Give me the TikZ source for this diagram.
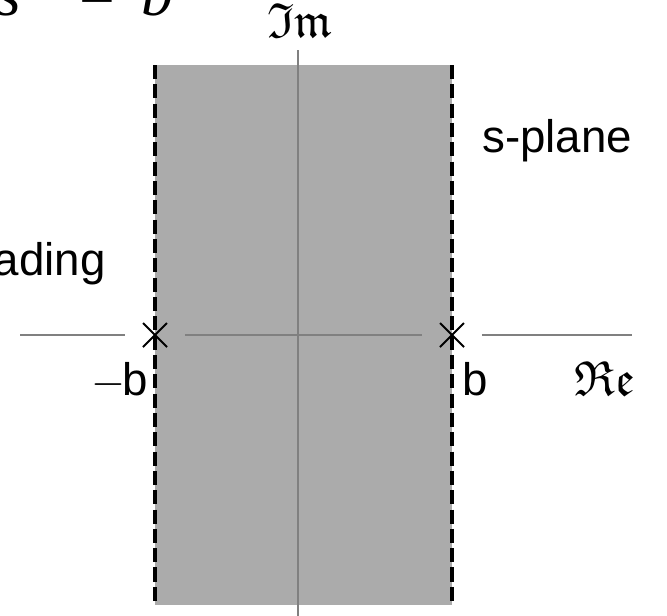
\documentclass[tikz,border=0pt]{standalone}
\usepackage{fontspec}
\setmainfont{Liberation Sans}
\newfontfamily\serifit{Liberation Serif}
\usepackage{amssymb}
\usetikzlibrary{positioning}

\begin{document}
\begin{tikzpicture}[
        x=0.02cm, y=-0.02cm,
        every node/.style={font=\fontsize{26pt}{30pt}\selectfont, inner sep=0pt},
        axis/.style={draw=black!50, line width=1.2pt},
        strip/.style={fill=black!33, draw=none},
        edge/.style={draw=black, line width=2.2pt, dash pattern=on 8pt off 3pt},
        pole/.style={draw=black, line width=1.2pt},
        axlabel/.style={font=\fontsize{28pt}{32pt}\selectfont}
    ]

    \useasboundingbox (0,0) rectangle (667,616);
    \clip (0,0) rectangle (667,616);

    % strip between the two poles
    \coordinate (tl) at (155,65);
    \coordinate (br) at (452,605);
    \fill[strip] (tl) rectangle (br);

    % axes
    \coordinate (xleft) at (20,335);
    \coordinate (xright) at (632,335);
    \coordinate (ytop) at (298,50);
    \coordinate (ybot) at (298,616);
    \coordinate (pl) at (155,335);
    \coordinate (pr) at (452,335);

    \draw[axis] (ytop) -- (ybot);
    \draw[axis] (xleft) -- ([xshift=-17]pl);
    \draw[axis] ([xshift=17]pl) -- ([xshift=-17]pr);
    \draw[axis] ([xshift=17]pr) -- (xright);

    % dashed edges
    \draw[edge] (155,65) -- (155,605);
    \draw[edge] (452,65) -- (452,605);

    % poles
    \foreach \p in {pl,pr} {
        \draw[pole] ([shift={(-12,-12)}]\p) -- ([shift={(12,12)}]\p);
        \draw[pole] ([shift={(-12,12)}]\p) -- ([shift={(12,-12)}]\p);
    }

    % labels
    \node[anchor=base east] (mb) at (148,395) {$-$\kern-2pt b};
    \node[anchor=base west] (pb) at (462,395) {b};
    \node[axlabel] (re) at (605,378) {$\mathfrak{Re}$};
    \node[axlabel] (im) at (300,20) {$\mathfrak{Im}$};
    \node[anchor=base west] (splane) at (482,152) {s-plane};
    \node[anchor=base east] (shade) at (106,275) {ading};
    \node[anchor=base west, font=\fontsize{36pt}{40pt}\selectfont] (eq) at (-4,15)
        {\serifit\itshape s\hspace{1.1cm}=\hspace{0.45cm}b};

\end{tikzpicture}
\end{document}
